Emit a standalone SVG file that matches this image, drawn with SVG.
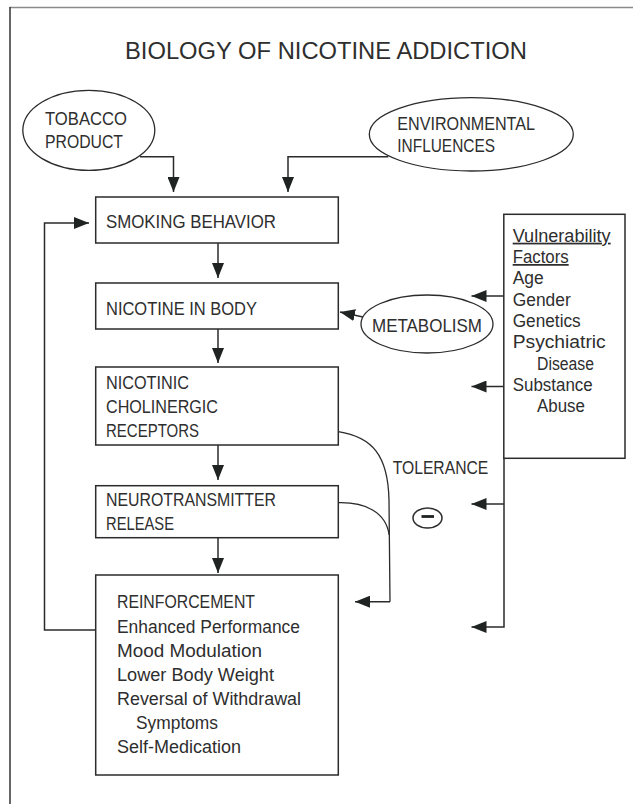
<svg xmlns="http://www.w3.org/2000/svg" width="633" height="804" viewBox="0 0 633 804">
<style>
text{font-family:"Liberation Sans",Arial,sans-serif;fill:#2e2e2e;font-size:17.5px}
.title{font-size:23px}
.box{fill:#fff;stroke:#2b2b2b;stroke-width:1.5}
.ell{fill:#fff;stroke:#2b2b2b;stroke-width:1.3}
.ln{fill:none;stroke:#2b2b2b;stroke-width:1.5}
.thin{fill:none;stroke:#2b2b2b;stroke-width:1.3}
.ul{text-decoration:underline}
</style>
<defs>
<marker id="ah" markerUnits="userSpaceOnUse" markerWidth="16" markerHeight="12" refX="15" refY="6" orient="auto">
<path d="M0,0 L15,6 L0,12 z" fill="#1f2322"/>
</marker>
</defs>
<rect width="633" height="804" fill="#fff"/>
<g id="frame">
<line x1="9.5" y1="7.5" x2="633" y2="7.5" stroke="#8a8a8a" stroke-width="1.5"/>
<line x1="10" y1="7" x2="10" y2="804" stroke="#333" stroke-width="1.5"/>
</g>
<text id="title" class="title" x="125" y="59.3" textLength="402" lengthAdjust="spacingAndGlyphs">BIOLOGY OF NICOTINE ADDICTION</text>

<g id="connectors">
<path class="ln" d="M140,156.7 H173.5 V192" marker-end="url(#ah)"/>
<path class="ln" d="M388.3,156.7 H288 V192" marker-end="url(#ah)"/>
<path class="ln" d="M218,243 V278" marker-end="url(#ah)"/>
<path class="ln" d="M218,329 V363" marker-end="url(#ah)"/>
<path class="ln" d="M218,445 V480" marker-end="url(#ah)"/>
<path class="ln" d="M218,538 V573" marker-end="url(#ah)"/>
<path class="ln" d="M96,630 H44.5 V223 H89" marker-end="url(#ah)"/>
<path class="ln" d="M363,317 L340,312" marker-end="url(#ah)"/>
<path class="thin" d="M338.3,431.7 C372,437 388,455 389,500 L390,601.7"/>
<path class="ln" d="M390,601.7 H355" marker-end="url(#ah)"/>
<path class="thin" d="M338.3,502.7 C365,502 386,512 389.2,535"/>
<path class="ln" d="M504,296 H471.5" marker-end="url(#ah)"/>
<path class="ln" d="M504,386.5 H471.5" marker-end="url(#ah)"/>
<path class="ln" d="M504,458 V627 H471.5" marker-end="url(#ah)"/>
<path class="ln" d="M504,504 H471.5" marker-end="url(#ah)"/>
</g>

<g id="tobacco">
<ellipse class="ell" cx="88.8" cy="130.3" rx="66" ry="40"/>
<text x="45" y="125" textLength="82" lengthAdjust="spacingAndGlyphs">TOBACCO</text>
<text x="45" y="148.3" textLength="78" lengthAdjust="spacingAndGlyphs">PRODUCT</text>
</g>
<g id="environmental">
<ellipse class="ell" cx="471.3" cy="134.3" rx="102" ry="36.7"/>
<text x="397.3" y="130" textLength="137.7" lengthAdjust="spacingAndGlyphs">ENVIRONMENTAL</text>
<text x="397.3" y="151.7" textLength="97.7" lengthAdjust="spacingAndGlyphs">INFLUENCES</text>
</g>
<g id="smoking">
<rect class="box" x="95.7" y="197" width="242.6" height="46"/>
<text x="106" y="228.3" textLength="170" lengthAdjust="spacingAndGlyphs">SMOKING BEHAVIOR</text>
</g>
<g id="nicotine">
<rect class="box" x="95.7" y="283" width="242.6" height="46"/>
<text x="106" y="315" textLength="151" lengthAdjust="spacingAndGlyphs">NICOTINE IN BODY</text>
</g>
<g id="metabolism">
<ellipse class="ell" cx="427" cy="324" rx="66" ry="29"/>
<text x="372" y="331.7" textLength="110" lengthAdjust="spacingAndGlyphs">METABOLISM</text>
</g>
<g id="receptors">
<rect class="box" x="95.7" y="367" width="242.6" height="78"/>
<text x="106" y="389.3" textLength="83" lengthAdjust="spacingAndGlyphs">NICOTINIC</text>
<text x="106" y="413.3" textLength="112" lengthAdjust="spacingAndGlyphs">CHOLINERGIC</text>
<text x="106" y="437.3" textLength="93" lengthAdjust="spacingAndGlyphs">RECEPTORS</text>
</g>
<g id="neurotransmitter">
<rect class="box" x="95.7" y="485.7" width="242.6" height="52"/>
<text x="106" y="506" textLength="170" lengthAdjust="spacingAndGlyphs">NEUROTRANSMITTER</text>
<text x="106" y="530" textLength="68" lengthAdjust="spacingAndGlyphs">RELEASE</text>
</g>
<g id="reinforcement">
<rect class="box" x="95.7" y="575" width="242.6" height="200"/>
<text x="117" y="608.3" textLength="138" lengthAdjust="spacingAndGlyphs">REINFORCEMENT</text>
<text x="117" y="632.7" textLength="183" lengthAdjust="spacingAndGlyphs">Enhanced Performance</text>
<text x="117" y="656.7" textLength="145" lengthAdjust="spacingAndGlyphs">Mood Modulation</text>
<text x="117" y="680.7" textLength="157" lengthAdjust="spacingAndGlyphs">Lower Body Weight</text>
<text x="117" y="705" textLength="184" lengthAdjust="spacingAndGlyphs">Reversal of Withdrawal</text>
<text x="136" y="729" textLength="82" lengthAdjust="spacingAndGlyphs">Symptoms</text>
<text x="117" y="752.7" textLength="124" lengthAdjust="spacingAndGlyphs">Self-Medication</text>
</g>
<g id="vulnerability">
<rect class="box" x="503.8" y="214.3" width="121.2" height="244"/>
<text class="ul" x="512.7" y="241.7" textLength="98" lengthAdjust="spacingAndGlyphs">Vulnerability</text>
<text class="ul" x="512.7" y="263" textLength="56" lengthAdjust="spacingAndGlyphs">Factors</text>
<text x="512.7" y="284" textLength="31" lengthAdjust="spacingAndGlyphs">Age</text>
<text x="512.7" y="306" textLength="58" lengthAdjust="spacingAndGlyphs">Gender</text>
<text x="512.7" y="326.7" textLength="68" lengthAdjust="spacingAndGlyphs">Genetics</text>
<text x="512.7" y="348" textLength="93" lengthAdjust="spacingAndGlyphs">Psychiatric</text>
<text x="537" y="370" textLength="57" lengthAdjust="spacingAndGlyphs">Disease</text>
<text x="512.7" y="391" textLength="80" lengthAdjust="spacingAndGlyphs">Substance</text>
<text x="537" y="411.7" textLength="48" lengthAdjust="spacingAndGlyphs">Abuse</text>
</g>
<g id="tolerance">
<text x="392.7" y="474" textLength="95.6" lengthAdjust="spacingAndGlyphs">TOLERANCE</text>
</g>
<g id="minus">
<ellipse cx="427.5" cy="518" rx="14.5" ry="10" fill="none" stroke="#2b2b2b" stroke-width="1.5"/>
<line x1="421.5" y1="516.5" x2="434" y2="516.5" stroke="#1f2322" stroke-width="2.8"/>
</g>
</svg>
